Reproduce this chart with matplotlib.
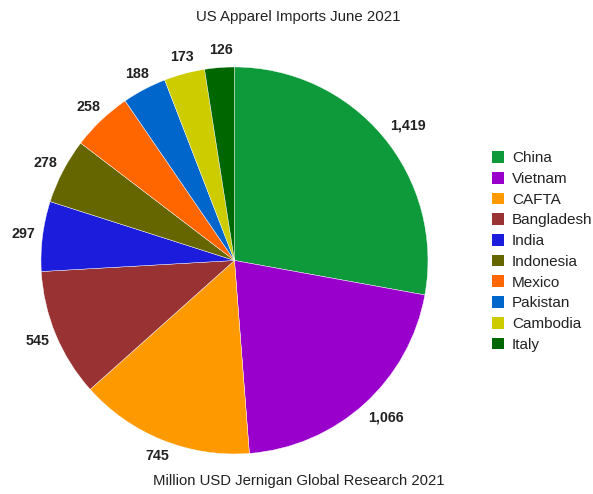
import numpy as np
import matplotlib
matplotlib.use("Agg")
import matplotlib.pyplot as plt
from matplotlib.patches import Patch

countries = ["China", "Vietnam", "CAFTA", "Bangladesh", "India",
             "Indonesia", "Mexico", "Pakistan", "Cambodia", "Italy"]
imports = [1419, 1066, 745, 545, 297, 278, 258, 188, 173, 126]
colors = ["#0e9a3a", "#9900cc", "#ff9900", "#993333", "#1c1cdc",
          "#666600", "#ff6600", "#0066cc", "#cccc00", "#006600"]

plt.rcParams["font.family"] = ["Liberation Sans", "DejaVu Sans"]

fig = plt.figure(figsize=(5.93, 4.94), dpi=100)
ax = fig.add_axes([0.0691, 0.081, 0.6526, 0.7834])

wedges, _ = ax.pie(imports, colors=colors, startangle=90, counterclock=False,
                   radius=1.0, wedgeprops=dict(edgecolor="white", linewidth=0.3))
ax.set_xlim(-1, 1)
ax.set_ylim(-1, 1)
ax.set_aspect("equal")

# labels: anchor just outside the rim, pushed out by half the text box
total = sum(imports)
start = 90.0
for v in imports:
    ang = np.deg2rad(start - v / total * 180.0)
    start -= v / total * 360.0
    label = f"{v:,}"
    half_w = (7.5 * sum(ch.isdigit() for ch in label) + 3.7 * label.count(",")) / 2 * 0.72
    half_h = 6 * 0.72
    ax.annotate(label, xy=(1.06 * np.cos(ang), 1.06 * np.sin(ang)),
                xytext=(half_w * np.cos(ang) + 2.2, half_h * np.sin(ang)),
                textcoords="offset points", ha="center", va="center",
                fontsize=10.3, fontweight="bold", color="#222222",
                annotation_clip=False)

fig.text(0.503, 0.966, "US Apparel Imports June 2021", ha="center", va="center",
         fontsize=10.8, color="#222222")
fig.text(0.503, 0.026, "Million USD Jernigan Global Research 2021", ha="center",
         va="center", fontsize=10.7, color="#222222")

handles = [Patch(facecolor=c, edgecolor="none") for c in colors]
fig.legend(handles, countries, loc="center left", bbox_to_anchor=(0.817, 0.491),
           frameon=False, fontsize=11, handlelength=0.8, handleheight=0.8,
           handletextpad=0.5, labelspacing=0.43, borderpad=0, labelcolor="#222222")

fig.savefig("out.png", dpi=100)
